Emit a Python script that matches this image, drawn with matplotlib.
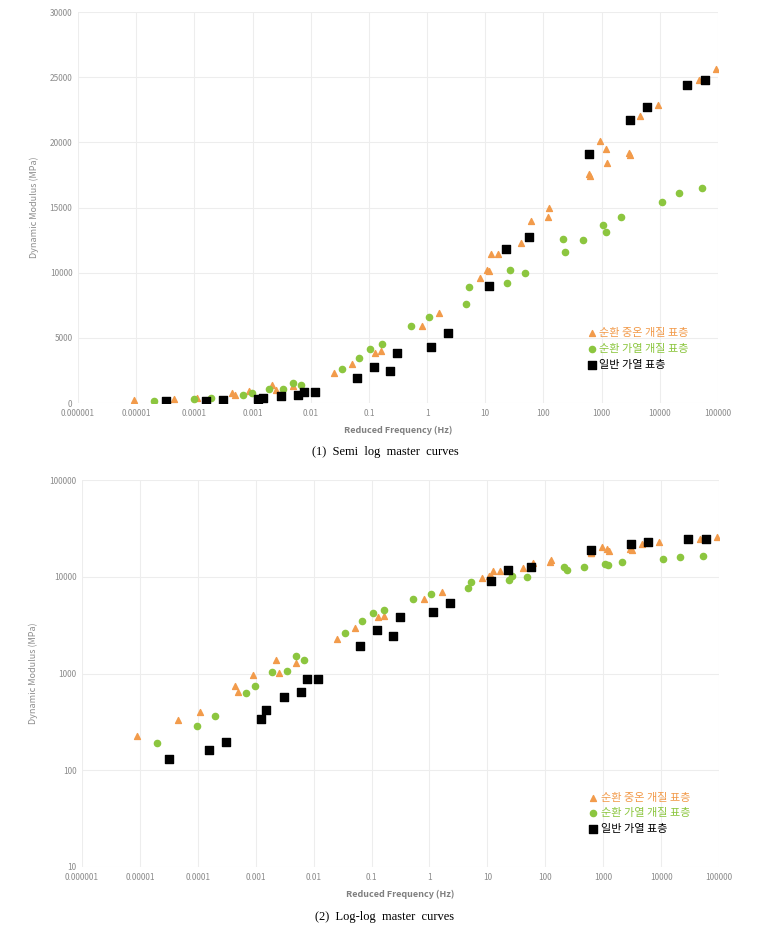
import matplotlib.pyplot as plt
from matplotlib.ticker import FixedLocator, NullLocator

plt.rcParams['font.family'] = ['Noto Sans CJK KR', 'DejaVu Sans']

# 순환 중온 개질 표층
f_warm = [9e-6, 4.5e-5, 1.1e-4, 4.4e-4, 5.0e-4, 8.8e-4, 2.2e-3, 2.5e-3, 4.9e-3,
          0.025, 0.051, 0.128, 0.164, 0.81, 1.63, 8.1, 10.6, 11.7, 12.7, 16.5,
          41, 61, 120, 124, 608, 625, 939, 1175, 1255, 2950, 3120, 4630, 9270,
          46800, 93000]
e_warm = [227, 330, 400, 742, 643, 955, 1365, 1003, 1290,
          2280, 2960, 3820, 3960, 5940, 6930, 9600, 10200, 10150, 11450, 11400,
          12300, 13950, 14300, 15000, 17600, 17400, 20100, 19500, 18400, 19200, 19000, 22000, 22900,
          24800, 25600]

# 순환 가열 개질 표층
f_hot = [2e-5, 9.8e-5, 1.95e-4, 6.8e-4, 9.6e-4, 1.9e-3, 3.4e-3, 4.9e-3, 6.7e-3,
         0.0345, 0.068, 0.105, 0.167, 0.525, 1.08, 4.7, 5.3, 24, 27, 48,
         213, 235, 474, 1057, 1190, 2130, 10700, 21300, 53600]
e_hot = [190, 288, 361, 627, 742, 1042, 1060, 1514, 1387,
         2600, 3480, 4180, 4520, 5870, 6620, 7600, 8870, 9220, 10180, 9950,
         12580, 11610, 12480, 13680, 13120, 14250, 15420, 16140, 16500]

# 일반 가열 표층
f_std = [3.2e-5, 1.56e-4, 3.06e-4, 1.22e-3, 1.53e-3, 3.04e-3, 5.96e-3, 7.6e-3, 1.2e-2,
         0.062, 0.122, 0.233, 0.305, 1.16, 2.3, 11.5, 23, 57.5,
         605, 3020, 5960, 29300, 59300]
e_std = [130, 162, 195, 336, 416, 566, 638, 875, 869,
         1930, 2800, 2440, 3820, 4300, 5400, 8960, 11800, 12750,
         19100, 21700, 22700, 24400, 24800]

labels = ['순환 중온 개질 표층', '순환 가열 개질 표층', '일반 가열 표층']
colors = ['#F29B4B', '#8CC63F', '#000000']
xticks = [1e-6, 1e-5, 1e-4, 1e-3, 1e-2, 1e-1, 1, 10, 100, 1000, 10000, 100000]
xlabels = ['0.000001', '0.00001', '0.0001', '0.001', '0.01', '0.1', '1', '10', '100',
           '1000', '10000', '100000']

fig = plt.figure(figsize=(7.71, 9.26), dpi=100)
ax1 = fig.add_axes([78 / 771, 1 - 403 / 926, 640 / 771, 391 / 926])
ax2 = fig.add_axes([82 / 771, 1 - 867 / 926, 637 / 771, 387 / 926])


def draw(ax):
    ax.scatter(f_warm, e_warm, marker='^', s=18, color=colors[0], label=labels[0], zorder=3)
    ax.scatter(f_hot, e_hot, marker='o', s=20, color=colors[1], label=labels[1], zorder=3)
    ax.scatter(f_std, e_std, marker='s', s=28, color=colors[2], label=labels[2], zorder=3)
    ax.set_xscale('log')
    ax.set_xlim(1e-6, 1e5)
    ax.xaxis.set_major_locator(FixedLocator(xticks))
    ax.xaxis.set_minor_locator(NullLocator())
    ax.set_xticklabels(xlabels)
    ax.grid(True, color='#EDEDED', linewidth=0.8)
    ax.set_axisbelow(True)
    for s in ax.spines.values():
        s.set_visible(False)
    ax.tick_params(length=0, labelsize=6, labelcolor='#8C8C8C', pad=4)
    ax.set_xlabel('Reduced Frequency (Hz)', fontsize=6.5, color='#7F7F7F',
                  fontweight='bold', labelpad=6)
    ax.set_ylabel('Dynamic Modulus (MPa)', fontsize=6.5, color='#8C8C8C', labelpad=8)
    leg = ax.legend(loc='lower left', bbox_to_anchor=(0.78, 0.06), frameon=False,
                    fontsize=8, handletextpad=0.3, labelspacing=0.5,
                    handlelength=0.8, markerscale=1.0)
    for t, c in zip(leg.get_texts(), colors):
        t.set_color(c)


draw(ax1)
ax1.set_ylim(0, 30000)
ax1.set_yticks([0, 5000, 10000, 15000, 20000, 25000, 30000])

draw(ax2)
ax2.set_yscale('log')
ax2.set_ylim(10, 100000)
ax2.yaxis.set_major_locator(FixedLocator([10, 100, 1000, 10000, 100000]))
ax2.yaxis.set_minor_locator(NullLocator())
ax2.set_yticklabels(['10', '100', '1000', '10000', '100000'])

fig.text(385 / 771, 1 - 452 / 926, '(1)  Semi  log  master  curves', ha='center', va='center',
         fontsize=9, family='Liberation Serif')
fig.text(385 / 771, 1 - 917 / 926, '(2)  Log-log  master  curves', ha='center', va='center',
         fontsize=9, family='Liberation Serif')

fig.savefig('out.png', dpi=100)
